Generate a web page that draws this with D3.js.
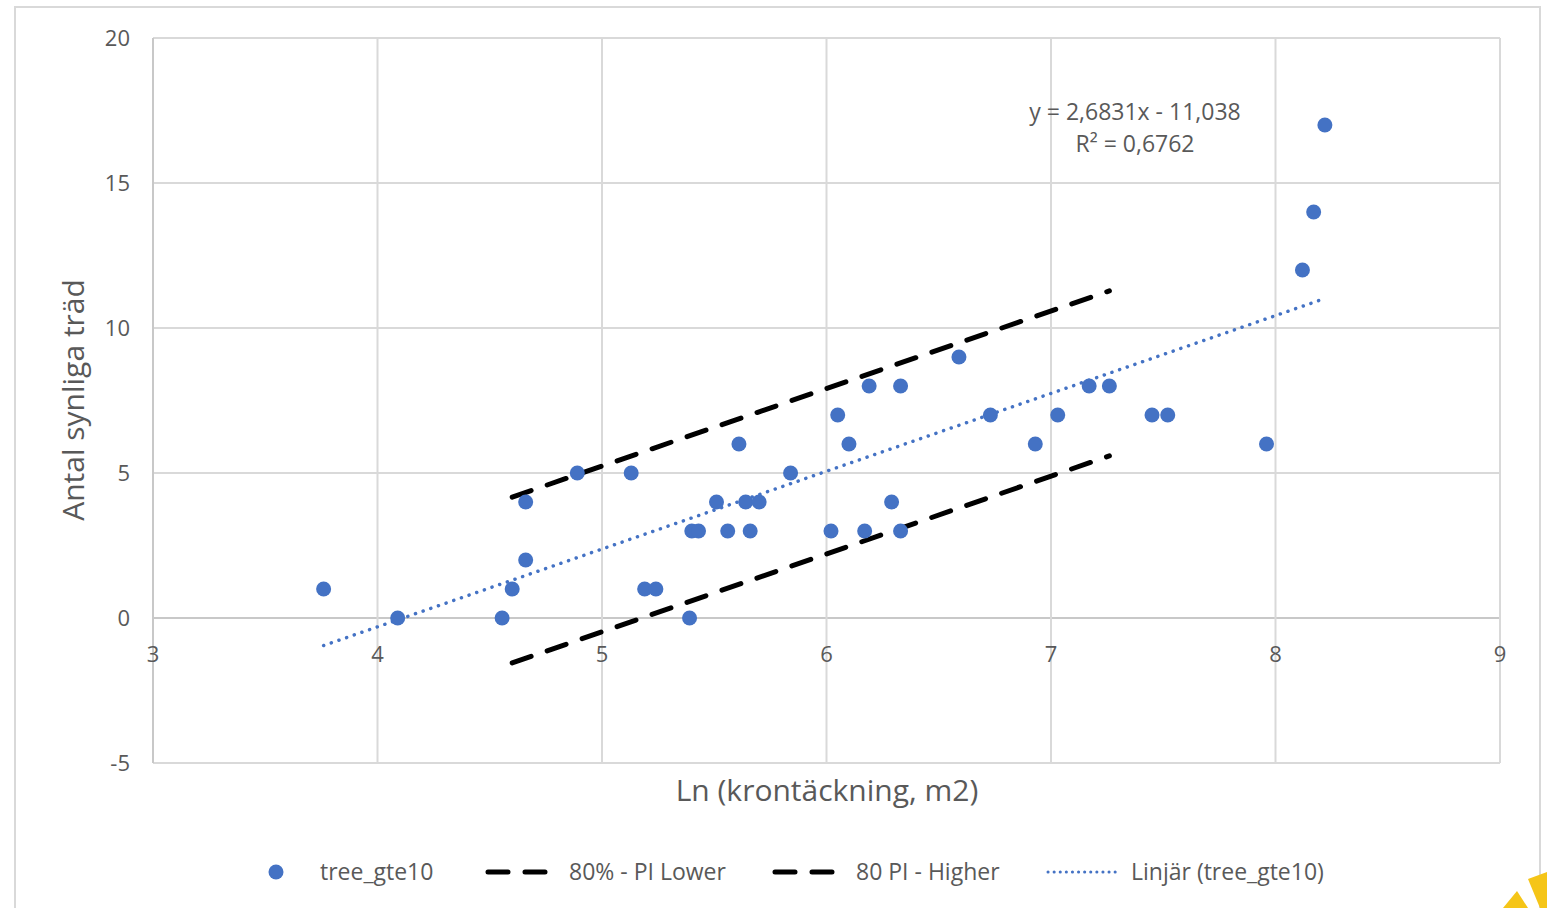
<!DOCTYPE html>
<html>
<head>
<meta charset="utf-8">
<script src="https://cdn.jsdelivr.net/npm/d3@7"></script>
<style>
  body { margin: 0; background: #fff; }
  svg text { font-family: "Open Sans", "Noto Sans", sans-serif; }
</style>
</head>
<body>
<div id="chart"></div>
<script>
// punkter (ln krontäckning, antal träd >= 10)
const lnCrown = [3.76, 4.09, 4.555, 4.60, 4.66, 4.66, 4.89, 5.13, 5.19, 5.24,
  5.39, 5.40, 5.43, 5.51, 5.56, 5.61, 5.64, 5.66, 5.70, 5.84,
  6.02, 6.05, 6.10, 6.17, 6.19, 6.29, 6.33, 6.33, 6.59, 6.73,
  6.93, 7.03, 7.17, 7.26, 7.45, 7.52, 7.96, 8.12, 8.17, 8.22];
const treeCount = [1, 0, 0, 1, 2, 4, 5, 5, 1, 1,
  0, 3, 3, 4, 3, 6, 4, 3, 4, 5,
  3, 7, 6, 3, 8, 4, 8, 3, 9, 7,
  6, 7, 8, 8, 7, 7, 6, 12, 14, 17];

// prediktionsintervall 80%
const piX = [4.60, 7.26];
const piLower = [-1.55, 5.59];
const piHigher = [4.17, 11.28];

// linjär trend
const slope = 2.6831, intercept = -11.038;
const trendX = [3.76, 8.22];

const xTicks = [3, 4, 5, 6, 7, 8, 9];
const yTicks = [-5, 0, 5, 10, 15, 20];

const width = 1547, height = 908;
const plot = { left: 153, right: 1500, top: 38, bottom: 763 };
const blue = "#4472C4", grid = "#d9d9d9", textGray = "#595959";

const svg = d3.select("#chart").append("svg")
  .attr("width", width).attr("height", height);

// ram runt diagrammet
svg.append("rect")
  .attr("x", 15).attr("y", 7).attr("width", 1525).attr("height", 920)
  .attr("fill", "none").attr("stroke", grid).attr("stroke-width", 2);

const x = d3.scaleLinear().domain([3, 9]).range([plot.left, plot.right]);
const y = d3.scaleLinear().domain([-5, 20]).range([plot.bottom, plot.top]);

// rutnät
svg.append("g").selectAll("line").data(yTicks).enter().append("line")
  .attr("x1", plot.left).attr("x2", plot.right)
  .attr("y1", d => y(d)).attr("y2", d => y(d))
  .attr("stroke", d => d === 0 ? "#c8c8c8" : grid).attr("stroke-width", 2);
svg.append("g").selectAll("line").data(xTicks).enter().append("line")
  .attr("x1", d => x(d)).attr("x2", d => x(d))
  .attr("y1", plot.top).attr("y2", plot.bottom)
  .attr("stroke", d => d === 3 ? "#c8c8c8" : grid).attr("stroke-width", 2);

// y-axel etiketter
svg.append("g").selectAll("text").data(yTicks).enter().append("text")
  .attr("x", 130).attr("y", d => y(d) + 8)
  .attr("text-anchor", "end").attr("fill", textGray)
  .style("font-size", "22px").text(d => d);

// x-axel etiketter (vid y = 0)
svg.append("g").selectAll("text").data(xTicks).enter().append("text")
  .attr("x", d => x(d)).attr("y", y(0) + 44)
  .attr("text-anchor", "middle").attr("fill", textGray)
  .style("font-size", "22px").text(d => d);

// axeltitlar
svg.append("text")
  .attr("transform", `translate(84,400) rotate(-90)`)
  .attr("text-anchor", "middle").attr("fill", textGray)
  .style("font-size", "30px").text("Antal synliga träd");
svg.append("text")
  .attr("x", 827).attr("y", 801)
  .attr("text-anchor", "middle").attr("fill", textGray)
  .style("font-size", "30px").text("Ln (krontäckning, m2)");

const line = d3.line().x(d => x(d[0])).y(d => y(d[1]));

// PI-linjer
const piStyle = sel => sel.attr("fill", "none").attr("stroke", "#000")
  .attr("stroke-width", 5).attr("stroke-linecap", "round")
  .attr("stroke-dasharray", "20 17");
svg.append("path").datum(piX.map((v, i) => [v, piLower[i]]))
  .attr("d", line).call(piStyle);
svg.append("path").datum(piX.map((v, i) => [v, piHigher[i]]))
  .attr("d", line).call(piStyle);

// trendlinje
svg.append("path").datum(trendX.map(v => [v, slope * v + intercept]))
  .attr("d", line).attr("fill", "none").attr("stroke", blue)
  .attr("stroke-width", 3.5).attr("stroke-linecap", "round")
  .attr("stroke-dasharray", "0.1 8");

// punkter
svg.append("g").selectAll("circle").data(lnCrown).enter().append("circle")
  .attr("cx", d => x(d)).attr("cy", (d, i) => y(treeCount[i]))
  .attr("r", 7.5).attr("fill", blue);

// ekvation
svg.append("text").attr("x", 1135).attr("y", 120)
  .attr("text-anchor", "middle").attr("fill", textGray)
  .style("font-size", "23px").text("y = 2,6831x - 11,038");
svg.append("text").attr("x", 1135).attr("y", 152)
  .attr("text-anchor", "middle").attr("fill", textGray)
  .style("font-size", "23px").text("R² = 0,6762");

// förklaring
const ly = 872;
const legend = svg.append("g");
legend.append("circle").attr("cx", 276).attr("cy", ly).attr("r", 7.5).attr("fill", blue);
legend.append("text").attr("x", 320).attr("y", ly + 8).attr("fill", textGray)
  .style("font-size", "23px").text("tree_gte10");
[[488, 546, 569, "80% - PI Lower"], [775, 834, 856, "80 PI - Higher"]].forEach(d => {
  legend.append("line").attr("x1", d[0]).attr("x2", d[1]).attr("y1", ly).attr("y2", ly)
    .attr("stroke", "#000").attr("stroke-width", 5).attr("stroke-linecap", "round")
    .attr("stroke-dasharray", "20 17");
  legend.append("text").attr("x", d[2]).attr("y", ly + 8).attr("fill", textGray)
    .style("font-size", "23px").text(d[3]);
});
legend.append("line").attr("x1", 1048).attr("x2", 1120).attr("y1", ly).attr("y2", ly)
  .attr("stroke", blue).attr("stroke-width", 3).attr("stroke-linecap", "round")
  .attr("stroke-dasharray", "0.1 6");
legend.append("text").attr("x", 1131).attr("y", ly + 8).attr("fill", textGray)
  .style("font-size", "23px").text("Linjär (tree_gte10)");

// gul figur i hörnet
svg.append("path").attr("d", "M1503,908 L1517,891 L1528,908 Z").attr("fill", "#f5c518");
svg.append("path").attr("d", "M1528,879 L1547,872 L1547,908 L1540,908 Z").attr("fill", "#f5c518");
</script>
</body>
</html>
